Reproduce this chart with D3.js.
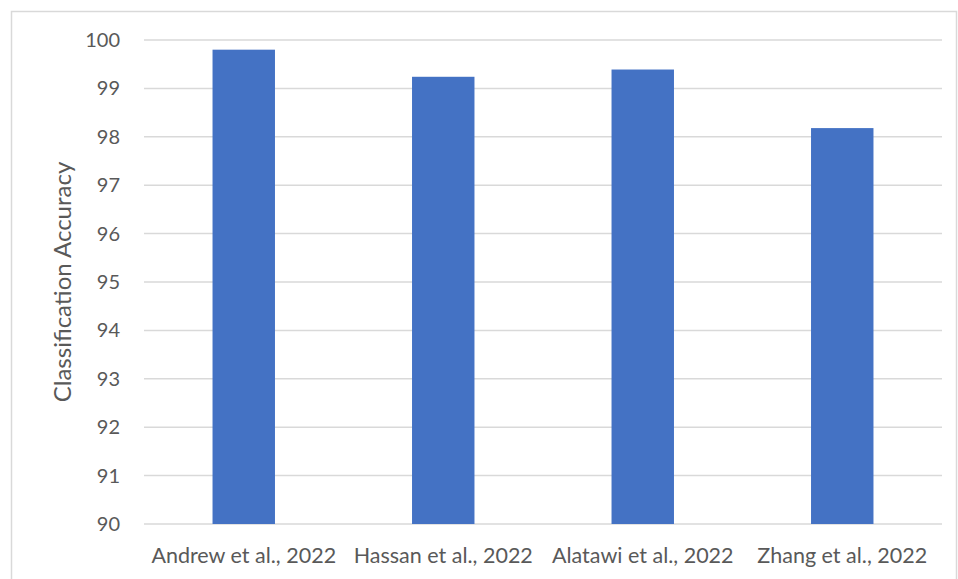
<!doctype html>
<html>
<head>
<meta charset="utf-8"/>
<script src="https://cdnjs.cloudflare.com/ajax/libs/d3/7.8.5/d3.min.js"></script>
<style>
  body { margin: 0; background: #fff; }
  svg { display: block; }
  text { font-family: Lato, "Open Sans", sans-serif; fill: #595959; }
  .grid line { stroke: #d9d9d9; stroke-width: 1.5px; }
  .bar { fill: #4472c4; }
</style>
</head>
<body>
<svg width="958" height="579"></svg>
<script>
var studies = ["Andrew et al., 2022", "Hassan et al., 2022", "Alatawi et al., 2022", "Zhang et al., 2022"];
var accuracy = [99.8, 99.24, 99.39, 98.18];
var yTicks = [90, 91, 92, 93, 94, 95, 96, 97, 98, 99, 100];

var svg = d3.select("svg");

// chart frame
svg.append("rect")
  .attr("x", 11.5).attr("y", 11.5)
  .attr("width", 945).attr("height", 600)
  .attr("fill", "none")
  .attr("stroke", "#d9d9d9")
  .attr("stroke-width", 1.5);

var plotLeft = 144, plotRight = 942, plotTop = 40, plotBottom = 524;

var x = d3.scaleBand()
  .domain(studies)
  .range([plotLeft, plotRight])
  .paddingInner(0.687)
  .paddingOuter(0.3435);

var y = d3.scaleLinear()
  .domain([90, 100])
  .range([plotBottom, plotTop]);

var data = studies.map((s, i) => ({study: s, value: accuracy[i]}));

svg.append("g")
  .attr("class", "grid")
  .selectAll("line")
  .data(yTicks)
  .enter()
  .append("line")
  .attr("x1", plotLeft)
  .attr("x2", plotRight)
  .attr("y1", d => y(d))
  .attr("y2", d => y(d));

svg.append("g")
  .selectAll("rect")
  .data(data)
  .enter()
  .append("rect")
  .attr("class", "bar")
  .attr("x", d => x(d.study))
  .attr("width", x.bandwidth())
  .attr("y", d => y(d.value))
  .attr("height", d => y(90) - y(d.value));

svg.append("g")
  .selectAll("text")
  .data(yTicks)
  .enter()
  .append("text")
  .attr("x", 120)
  .attr("y", d => y(d))
  .attr("dy", "0.35em")
  .attr("text-anchor", "end")
  .style("font-size", "20px")
  .text(d => d);

svg.append("g")
  .selectAll("text")
  .data(studies)
  .enter()
  .append("text")
  .attr("x", d => x(d) + x.bandwidth() / 2)
  .attr("y", 563)
  .attr("text-anchor", "middle")
  .style("font-size", "21.5px")
  .text(d => d);

svg.append("text")
  .attr("transform", "translate(71," + ((plotTop + plotBottom) / 2) + ") rotate(-90)")
  .attr("text-anchor", "middle")
  .style("font-size", "24px")
  .text("Classification Accuracy");
</script>
</body>
</html>
